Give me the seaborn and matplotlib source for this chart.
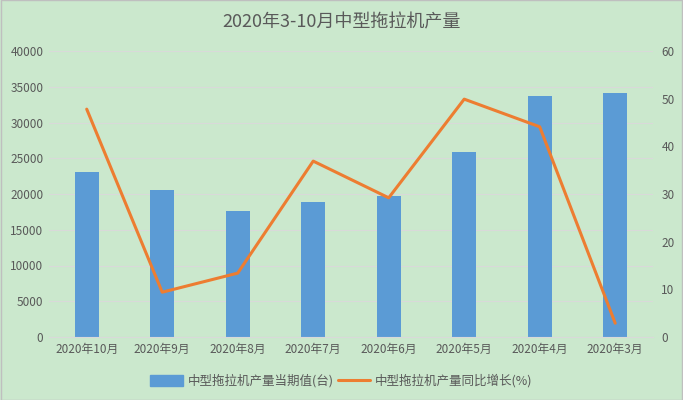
import numpy as np
import pandas as pd
import matplotlib
matplotlib.use("Agg")
import matplotlib.pyplot as plt
import seaborn as sns
from matplotlib.patches import Patch
from matplotlib.lines import Line2D

### DATA ###

months = ['2020年10月', '2020年9月', '2020年8月', '2020年7月',
          '2020年6月', '2020年5月', '2020年4月', '2020年3月']
output = [23080, 20560, 17620, 18880, 19720, 25870, 33700, 34130]
growth = [47.8, 9.4, 13.4, 36.9, 29.2, 49.9, 44.1, 2.9]

bar_label = '中型拖拉机产量当期值(台)'
line_label = '中型拖拉机产量同比增长(%)'
title = '2020年3-10月中型拖拉机产量'

df = pd.DataFrame({'month': months, 'output': output, 'growth': growth})

### STYLE ###

bg = '#cbe8cd'
blue = '#5b9bd5'
orange = '#ed7d31'
text_col = '#595959'

sns.set_style('white')
plt.rcParams['font.family'] = ['Noto Sans CJK SC', 'DejaVu Sans']

fig = plt.figure(figsize=(6.83, 4.0), dpi=100, facecolor=bg)
ax = fig.add_axes([0.0717, 0.1575, 0.8843, 0.715])
ax.set_facecolor(bg)

# Bars
sns.barplot(data=df, x='month', y='output', color=blue, width=0.32,
            saturation=1, linewidth=0, ax=ax, zorder=2)
ax.set_ylim(0, 40000)
ax.set_yticks(np.arange(0, 40001, 5000))
ax.grid(axis='y', color='#d9d9d9', linewidth=0.8, zorder=0)
ax.set_axisbelow(True)
ax.set_xlabel('')
ax.set_ylabel('')

# Line on secondary axis
ax2 = ax.twinx()
sns.pointplot(data=df, x='month', y='growth', color=orange, marker='',
              linewidth=2.2, ax=ax2)
ax2.set_ylim(0, 60)
ax2.set_yticks(np.arange(0, 61, 10))
ax2.set_ylabel('')
ax.set_xlim(-0.5, len(months) - 0.5)
ax2.set_xlim(-0.5, len(months) - 0.5)

for a in (ax, ax2):
    for s in a.spines.values():
        s.set_visible(False)
    a.tick_params(length=0, labelsize=8.5, colors=text_col, pad=4)
ax.spines['bottom'].set_visible(True)
ax.spines['bottom'].set_color('#d9d9d9')
ax2.tick_params(axis='y', pad=6)

# Title
fig.text(0.5, 0.945, title, ha='center', va='center',
         fontsize=13, color=text_col)

# Legend
handles = [Patch(facecolor=blue, edgecolor=blue),
           Line2D([0], [0], color=orange, linewidth=2.2)]
fig.legend(handles, [bar_label, line_label], loc='center',
           bbox_to_anchor=(0.5, 0.048), ncol=2, frameon=False,
           fontsize=9, labelcolor=text_col, handlelength=2.6,
           handleheight=0.9, columnspacing=0.3, handletextpad=0.4)

# Outer border
fig.patches.append(plt.Rectangle((0.001, 0.001), 0.998, 0.998,
                                 transform=fig.transFigure, fill=False,
                                 edgecolor='#bfbfbf', linewidth=1))

fig.savefig('out.png', dpi=100, facecolor=bg)
